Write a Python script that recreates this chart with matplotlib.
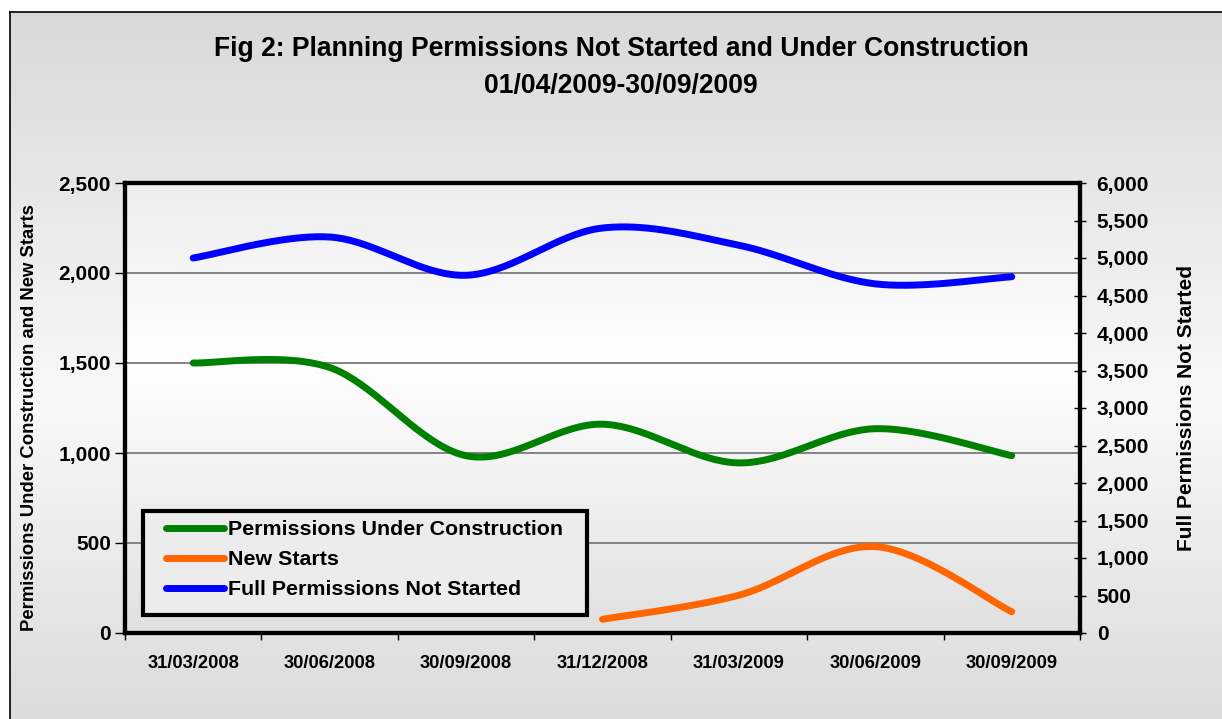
import numpy as np
import matplotlib
matplotlib.use("Agg")
import matplotlib.pyplot as plt
from matplotlib.patches import Rectangle
from matplotlib.ticker import FuncFormatter, MultipleLocator

plt.rcParams['font.family'] = ['Liberation Sans', 'DejaVu Sans']
plt.rcParams['font.weight'] = 'bold'

# data
dates = ["31/03/2008", "30/06/2008", "30/09/2008", "31/12/2008",
         "31/03/2009", "30/06/2009", "30/09/2009"]
under_construction = [1500, 1475, 985, 1160, 945, 1135, 985]
new_starts = [np.nan, np.nan, np.nan, 76, 210, 480, 118]
not_started = [5000, 5280, 4770, 5400, 5170, 4655, 4750]

W, H = 1222, 719


def smooth(xs, ys, n=40):
    # excel-style smoothed line: bezier through each point
    xs = np.asarray(xs, float)
    ys = np.asarray(ys, float)
    ok = ~np.isnan(ys)
    pts = np.column_stack([xs[ok], ys[ok]])
    m = len(pts)
    t = np.linspace(0, 1, n)[:, None]
    out = []
    for i in range(m - 1):
        p0 = pts[max(i - 1, 0)]
        p1 = pts[i]
        p2 = pts[i + 1]
        p3 = pts[min(i + 2, m - 1)]
        c1 = p1 + (p2 - p0) / 6.0
        c2 = p2 - (p3 - p1) / 6.0
        seg = ((1 - t) ** 3) * p1 + 3 * ((1 - t) ** 2) * t * c1 \
            + 3 * (1 - t) * t ** 2 * c2 + t ** 3 * p2
        out.append(seg if i == 0 else seg[1:])
    out = np.vstack(out)
    return out[:, 0], out[:, 1]


def gradient(stops, levels, n=256):
    f = np.linspace(0, 1, n)
    g = np.interp(f, stops, levels)
    return np.stack([g, g, g], axis=-1)[:, None, :]


fig = plt.figure(figsize=(W / 100, H / 100), dpi=100)
fig.patch.set_facecolor('white')

# outer chart area
bg = fig.add_axes([10 / W, 0, 1, 1 - 12 / H], zorder=0)
bg.imshow(gradient([0, 0.55, 1], [0.85, 0.975, 0.86]), aspect='auto',
          extent=[0, 1, 0, 1])
bg.set_xlim(0, 1)
bg.set_ylim(0, 1)
bg.set_xticks([])
bg.set_yticks([])
for s in ['right', 'bottom']:
    bg.spines[s].set_visible(False)
for s in ['left', 'top']:
    bg.spines[s].set_linewidth(1.2)

pl, pr, pt, pb = 125, 1080, 183, 633
rect = [pl / W, 1 - pb / H, (pr - pl) / W, (pb - pt) / H]

pbg = fig.add_axes(rect, zorder=1)
pbg.imshow(gradient([0, 0.4, 1], [0.93, 1.0, 0.88]), aspect='auto',
           extent=[0, 1, 0, 1])
pbg.set_xlim(0, 1)
pbg.set_ylim(0, 1)
pbg.axis('off')

ax = fig.add_axes(rect, zorder=2)
ax.patch.set_visible(False)
ax2 = ax.twinx()

x = np.arange(len(dates))

sx, sy = smooth(x, under_construction)
l1, = ax.plot(sx, sy, color='#008000', lw=5, solid_capstyle='round',
              label='Permissions Under Construction', zorder=3)
sx, sy = smooth(x, new_starts)
l2, = ax.plot(sx, sy, color='#ff6600', lw=5, solid_capstyle='round',
              label='New Starts', zorder=3)
sx, sy = smooth(x, not_started)
l3, = ax2.plot(sx, sy, color='#0000ff', lw=5, solid_capstyle='round',
               label='Full Permissions Not Started', zorder=3)

ax.set_xlim(-0.5, len(dates) - 0.5)
ax.set_ylim(0, 2500)
ax2.set_ylim(0, 6000)

comma = FuncFormatter(lambda v, p: f"{int(v):,}")

ax.yaxis.set_major_locator(MultipleLocator(500))
ax.yaxis.set_major_formatter(comma)
ax.tick_params(axis='y', direction='out', length=7, width=1, labelsize=15, pad=3)
for v in [500, 1000, 1500, 2000]:
    ax.axhline(v, color='#707070', lw=1.2, zorder=1)

ax.set_xticks(x)
ax.set_xticklabels(dates)
ax.tick_params(axis='x', which='major', length=0, labelsize=13.2, pad=16)
ax.set_xticks(np.arange(-0.5, len(dates)), minor=True)
ax.tick_params(axis='x', which='minor', direction='out', length=5, width=1)

ax2.yaxis.set_major_locator(MultipleLocator(500))
ax2.yaxis.set_major_formatter(comma)
ax2.tick_params(axis='y', direction='inout', length=8, width=1, labelsize=15, pad=8)

for a in (ax, ax2):
    for s in a.spines.values():
        s.set_linewidth(3)
        s.set_color('black')

fig.text(30 / W, 1 - 418 / H, "Permissions Under Construction and New Starts",
         rotation=90, ha='center', va='center', fontsize=13.3, fontweight='bold')
fig.text(1187 / W, 1 - 408 / H, "Full Permissions Not Started",
         rotation=90, ha='center', va='center', fontsize=15, fontweight='bold')

fig.text(621 / W, 1 - 49 / H, "Fig 2: Planning Permissions Not Started and Under Construction",
         ha='center', va='center', fontsize=19.1, fontweight='bold')
fig.text(621 / W, 1 - 86 / H, "01/04/2009-30/09/2009",
         ha='center', va='center', fontsize=19.1, fontweight='bold')

# legend box drawn as its own frame, entries inside it
box = Rectangle((143 / W, 1 - 615 / H), (587 - 143) / W, (615 - 511) / H,
                transform=fig.transFigure, facecolor='#ececec',
                edgecolor='black', lw=3, zorder=4, clip_on=False)
ax2.add_patch(box)
leg = ax2.legend(handles=[l1, l2, l3], loc='upper left',
                 bbox_to_anchor=((166 - pl) / (pr - pl), (pb - 520) / (pb - pt)),
                 borderaxespad=0, borderpad=0, handlelength=2.7,
                 handletextpad=0.2, labelspacing=0.52, frameon=False,
                 prop={'weight': 'bold', 'size': 15.4})
leg.set_zorder(6)

fig.savefig("out.png", dpi=100)
